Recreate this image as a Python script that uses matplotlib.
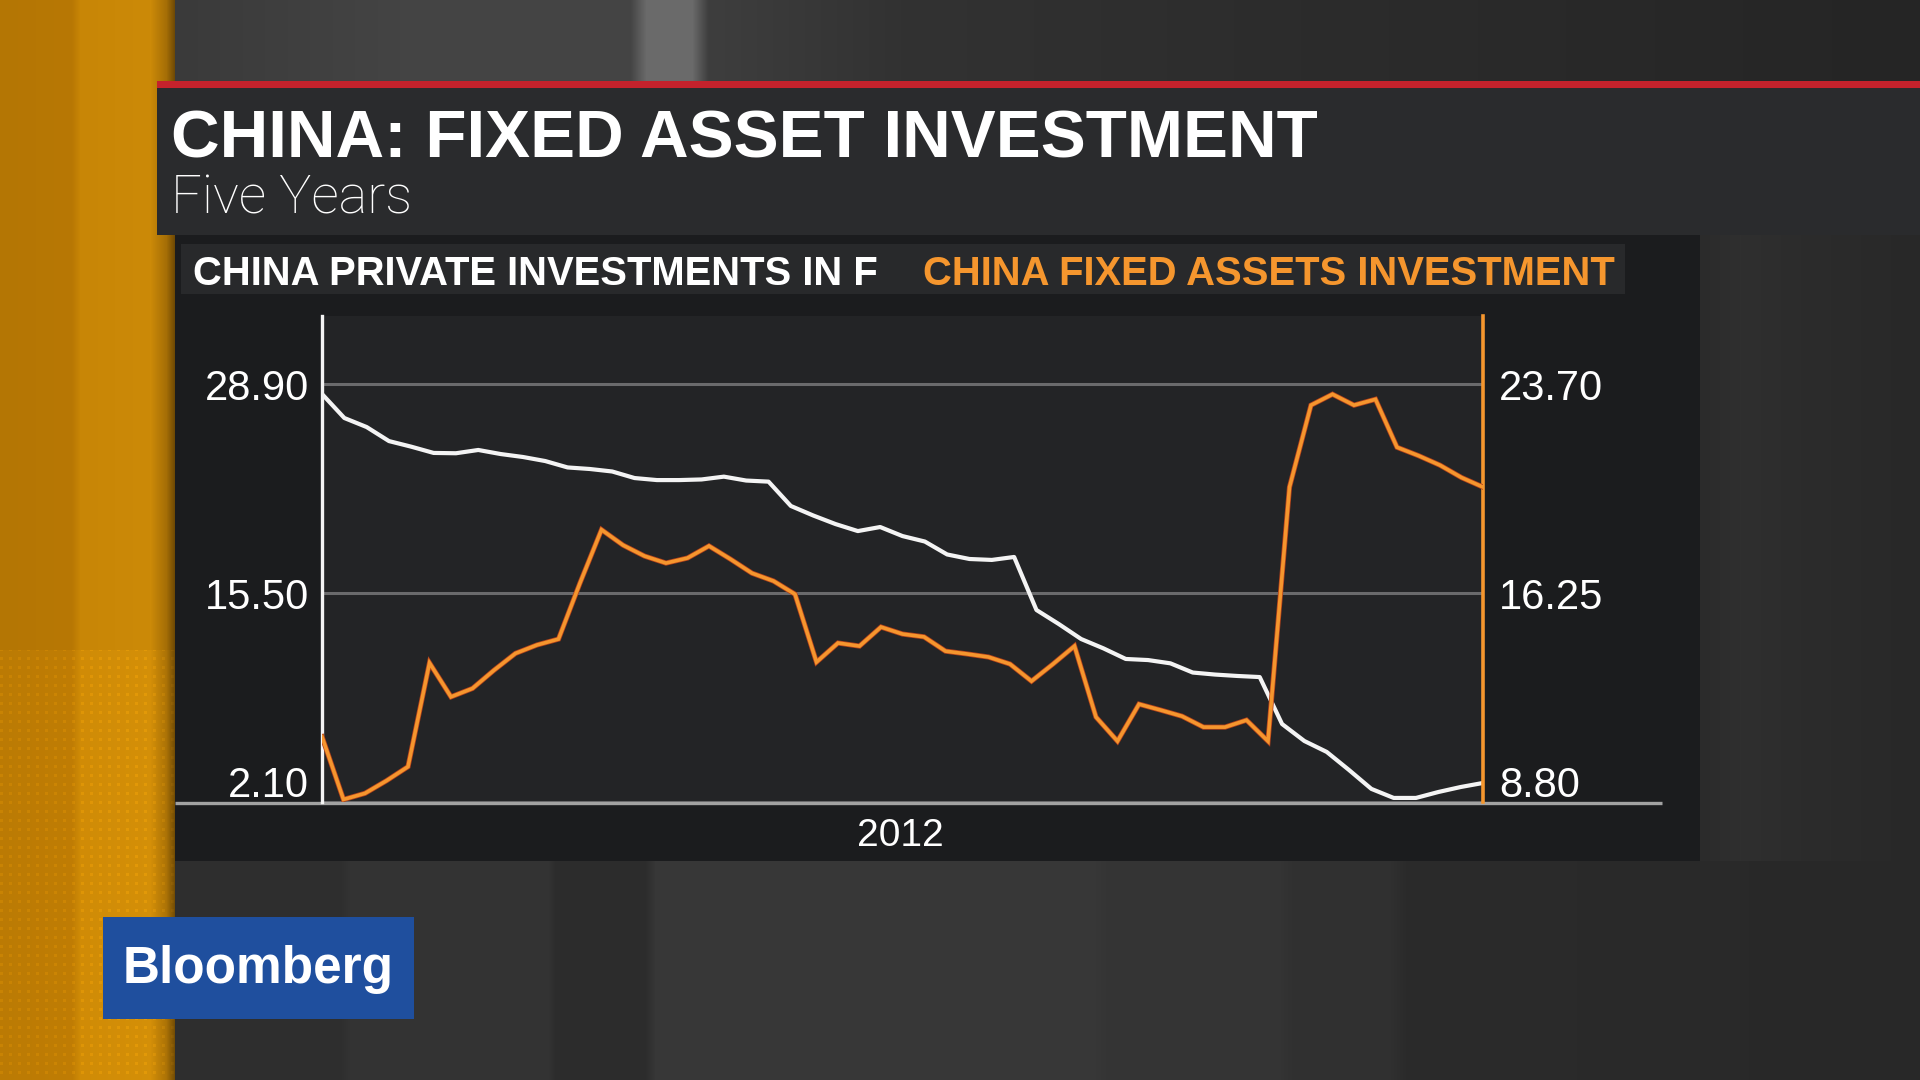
import numpy as np
import matplotlib
matplotlib.use("Agg")
import matplotlib.pyplot as plt
from matplotlib.patches import Rectangle
from matplotlib.lines import Line2D
from matplotlib.transforms import ScaledTranslation
import matplotlib.patheffects as pe

plt.rcParams['font.family'] = ['Liberation Sans', 'DejaVu Sans']

# ---------------- data ----------------
title_text = "CHINA: FIXED ASSET INVESTMENT"
subtitle_text = "Five Years"
private_name = "CHINA PRIVATE INVESTMENTS IN F"
fai_name = "CHINA FIXED ASSETS INVESTMENT"
brand_text = "Bloomberg"

private_values = [28.28, 26.74, 26.16, 25.26, 24.90, 24.50, 24.48, 24.69, 24.43, 24.24,
                  23.98, 23.57, 23.47, 23.31, 22.89, 22.76, 22.76, 22.80, 22.98, 22.73,
                  22.66, 21.10, 20.49, 19.94, 19.49, 19.75, 19.17, 18.82, 17.99, 17.70,
                  17.64, 17.83, 14.43, 13.53, 12.57, 11.97, 11.29, 11.22, 11.01, 10.42,
                  10.29, 10.20, 10.13, 7.12, 6.03, 5.33, 4.17, 2.96, 2.38, 2.38,
                  2.76, 3.08, 3.34]

fai_values = [11.14, 8.90, 9.12, 9.57, 10.07, 13.77, 12.56, 12.86, 13.51, 14.11,
              14.41, 14.62, 16.62, 18.52, 17.97, 17.58, 17.33, 17.51, 17.94, 17.47,
              16.97, 16.69, 16.22, 13.80, 14.48, 14.37, 15.05, 14.80, 14.70, 14.19,
              14.09, 13.98, 13.73, 13.12, 13.73, 14.37, 11.84, 10.98, 12.30, 12.09,
              11.87, 11.48, 11.48, 11.73, 10.98, 20.04, 22.96, 23.35, 22.96, 23.17,
              21.46, 21.16, 20.82, 20.38, 20.04]

left_ticks = [2.10, 15.50, 28.90]
right_ticks = [8.80, 16.25, 23.70]
left_limits = (2.10, 33.28)
right_limits = (8.80, 26.14)
x_tick_positions = [0.498]
x_tick_labels = ["2012"]

# ---------------- colours ----------------
WHITE = "#f4f4f4"
ORANGE = "#f5962e"
ORANGE_EDGE = "#b4421a"
GRID = "#6a6a6c"

W, H = 1920, 1080
fig = plt.figure(figsize=(19.2, 10.8), dpi=100)

# ---------------- background (studio) ----------------
img = np.full((H, W, 3), 0x2c / 255.0)
cols = np.arange(W)
rows = np.arange(H)

def band(xp, vals):
    return np.interp(cols, xp, vals) / 255.0

# top strip
top = band([175, 400, 630, 646, 692, 708, 900, 1300, 1920],
           [0x3a, 0x44, 0x44, 0x6a, 0x6a, 0x3e, 0x32, 0x2c, 0x25])
img[0:81, :, :] = top[None, :, None]
# bottom strip
bot = band([175, 340, 350, 548, 556, 645, 655, 1095, 1110, 1280, 1295, 1390, 1405, 1920],
           [0x2e, 0x2e, 0x33, 0x33, 0x2c, 0x2c, 0x37, 0x37, 0x34, 0x34, 0x30, 0x30, 0x2b, 0x28])
img[861:, :, :] = bot[None, :, None]
# right side
rs = band([1700, 1740, 1800, 1920], [0x2b, 0x2f, 0x2c, 0x28])
img[235:861, 1700:, :] = rs[None, 1700:, None]

# left orange column
r = np.interp(cols[:175], [0, 72, 80, 150, 166, 175], [180, 184, 200, 204, 165, 105])
g = np.interp(cols[:175], [0, 72, 80, 150, 166, 175], [118, 120, 134, 138, 110, 70])
b = np.interp(cols[:175], [0, 72, 80, 150, 166, 175], [4, 4, 6, 8, 6, 4])
colimg = np.stack([r, g, b], axis=-1) / 255.0
img[:, :175, :] = colimg[None, :, :]
yy, xx = np.meshgrid(rows[650:], cols[:175], indexing="ij")
dots = ((xx % 9) < 3) & ((yy % 9) < 3)
lower = img[650:, :175, :].copy() * 1.04
lower[dots] = lower[dots] * 1.07
img[650:, :175, :] = np.clip(lower, 0, 1)

bg = fig.add_axes([0, 0, 1, 1])
bg.imshow(img, aspect="auto", extent=[0, W, H, 0], interpolation="bilinear")
bg.set_xlim(0, W)
bg.set_ylim(H, 0)
bg.axis("off")

# panels
bg.add_patch(Rectangle((157, 81), W - 157, 7, color="#c4222c", lw=0))
bg.add_patch(Rectangle((157, 88), W - 157, 147, color="#2a2b2d", lw=0))
bg.add_patch(Rectangle((175, 235), 1525, 626, color="#1b1c1e", lw=0))
bg.add_patch(Rectangle((181, 244), 1444, 50, color="#28292b", lw=0))
bg.add_line(Line2D([175, 1662], [803, 803], color="#a2a2a2", lw=2.4,
                   solid_capstyle="butt"))

# title texts
bg.text(171, 157, title_text, color="white", fontsize=48.5, fontweight="bold",
        ha="left", va="baseline")
bg.text(171, 214, subtitle_text, color="white", fontsize=39,
        family=["Roboto", "Liberation Sans", "DejaVu Sans"], fontweight="light",
        ha="left", va="baseline")

# legend texts
bg.text(193, 285, private_name, color="white", fontsize=28.8, fontweight="bold",
        ha="left", va="baseline")
bg.text(923, 285, fai_name, color=ORANGE, fontsize=28.8, fontweight="bold",
        ha="left", va="baseline")

# Bloomberg logo
bg.add_patch(Rectangle((103, 917), 311, 102, color="#1f4f9e", lw=0))
bg.text(258, 970, brand_text, color="white", fontsize=37, fontweight="bold",
        ha="center", va="center")

# ---------------- chart ----------------
ax = fig.add_axes([322 / W, 1 - 802.3 / H, 1161 / W, 486.3 / H])
ax.set_facecolor("#232426")
ax2 = ax.twinx()

x_private = np.linspace(0, 1, len(private_values))
x_fai = np.linspace(0, 1, len(fai_values))

ax.plot(x_private, private_values, color=WHITE, lw=3.0, solid_joinstyle="round",
        zorder=3)
ax2.plot(x_fai, fai_values, color=ORANGE, lw=2.6, solid_joinstyle="miter",
         path_effects=[pe.Stroke(linewidth=3.7, foreground=ORANGE_EDGE), pe.Normal()],
         zorder=3)

ax.set_xlim(0, 1)
ax.set_ylim(*left_limits)
ax2.set_ylim(*right_limits)

ax.set_yticks(left_ticks, labels=[f"{v:.2f}" for v in left_ticks])
ax2.set_yticks(right_ticks, labels=[f"{v:.2f}" for v in right_ticks])
ax.set_xticks(x_tick_positions, labels=x_tick_labels)

ax.grid(axis="y", color=GRID, lw=2.2)
ax.grid(axis="x", visible=False)
ax.set_axisbelow(True)

ax.tick_params(axis="y", length=0, pad=9.4, labelsize=30, labelcolor="white")
ax2.tick_params(axis="y", length=0, pad=11.5, labelsize=30, labelcolor="white")
ax.tick_params(axis="x", length=0, pad=11, labelsize=28, labelcolor="white")

lift = ScaledTranslation(0, 5 / 100, fig.dpi_scale_trans)
for lab in ax.get_yticklabels()[:1] + ax2.get_yticklabels()[:1]:
    lab.set_verticalalignment("baseline")
    lab.set_transform(lab.get_transform() + lift)

for s in ["top", "bottom", "right"]:
    ax.spines[s].set_visible(False)
    ax2.spines[s].set_visible(s == "right")
ax2.spines["left"].set_visible(False)
ax.spines["left"].set_color(WHITE)
ax.spines["left"].set_linewidth(2.4)
ax2.spines["right"].set_color(ORANGE)
ax2.spines["right"].set_linewidth(2.6)

fig.savefig("out.png", dpi=100)
